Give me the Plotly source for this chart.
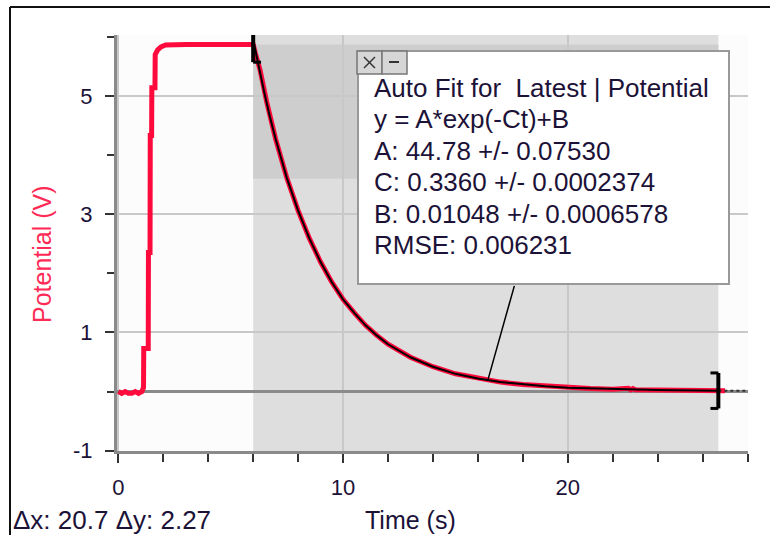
import plotly.graph_objects as go

# ---- data ----
time_s = [0, 0.15, 0.3, 0.45, 0.6, 0.75, 0.9, 1.05, 1.12, 1.13, 1.33, 1.34, 1.41, 1.42,
          1.48, 1.49, 1.63, 1.64, 1.75, 1.9, 2.1, 2.4, 3, 4, 5, 6.0, 6.1, 6.3, 6.6, 7,
          7.5, 8, 8.5, 9, 9.5, 10, 10.5, 11, 11.5, 12, 13, 14, 15, 16, 17, 18, 19, 20,
          21, 22, 22.6, 22.7, 22.8, 22.9, 23, 24, 25, 26, 27]
potential = [0.0, -0.03, 0.0, -0.03, -0.03, 0.0, -0.03, 0.0, 0.07, 0.73, 0.73, 2.35, 2.35, 4.33,
             4.33, 5.14, 5.14, 5.70, 5.78, 5.83, 5.86, 5.87, 5.87, 5.87, 5.87, 5.87, 5.72, 5.45, 4.90, 4.27,
             3.61, 3.06, 2.59, 2.19, 1.85, 1.56, 1.33, 1.12, 0.95, 0.80, 0.58, 0.42, 0.30, 0.22, 0.16, 0.12, 0.09, 0.065,
             0.05, 0.04, 0.04, 0.055, 0.03, 0.05, 0.03, 0.025, 0.02, 0.015, 0.015]

fit_t = [6, 6.25, 6.5, 6.75, 7, 7.5, 8, 8.5, 9, 9.5, 10, 10.5, 11, 11.5, 12, 13, 14, 15, 16,
         17, 18, 19, 20, 22, 24, 26.7]
fit_v = [5.95, 5.48, 5.05, 4.64, 4.27, 3.61, 3.06, 2.59, 2.19, 1.85, 1.56, 1.33, 1.12, 0.95,
         0.80, 0.58, 0.42, 0.30, 0.22, 0.16, 0.12, 0.09, 0.065, 0.04, 0.025, 0.015]
ext_t = [26.7, 28]
ext_v = [0.015, 0.015]

fit_region = [6.0, 26.7]
sel_y = [3.60, 5.87]

x_major = [0, 10, 20]
y_major = [-1, 1, 3, 5]
y_major_text = ["-1", "1", "3", "5"]

fit_lines = ["Auto Fit for  Latest | Potential", "y = A*exp(-Ct)+B", "A: 44.78 +/- 0.07530",
             "C: 0.3360 +/- 0.0002374", "B: 0.01048 +/- 0.0006578", "RMSE: 0.006231"]
delta_text = "Δx: 20.7 Δy: 2.27"

# ---- layout geometry (pixels) ----
W, H = 770, 535
L, R, T, B = 117, 748, 35, 451


def px(X):
    return (X - L) / (R - L)


def py(Y):
    return (B - Y) / (B - T)


FONT = "Liberation Sans, Arial, sans-serif"
RED = "#ff0a3c"
TXT = "#1c1238"

fig = go.Figure()
fig.add_trace(go.Scatter(x=time_s, y=potential, mode="lines",
                         line=dict(color=RED, width=5), hoverinfo="skip"))
fig.add_trace(go.Scatter(x=fit_t, y=fit_v, mode="lines",
                         line=dict(color="black", width=2), hoverinfo="skip"))
fig.add_trace(go.Scatter(x=ext_t, y=ext_v, mode="lines",
                         line=dict(color="#333333", width=2, dash="dot"), hoverinfo="skip"))

shapes = []
# shaded fit region
shapes.append(dict(type="rect", xref="x", yref="paper", x0=fit_region[0], x1=fit_region[1],
                   y0=0, y1=1, fillcolor="#dedede", line=dict(width=0), layer="below"))
shapes.append(dict(type="rect", xref="x", yref="y", x0=fit_region[0], x1=fit_region[1],
                   y0=sel_y[0], y1=sel_y[1], fillcolor="#cecece", line=dict(width=0), layer="below"))

# brackets
lb_y = potential[time_s.index(6.0)]
h = 0.30
shapes += [
    dict(type="line", xref="x", yref="y", x0=6.0, x1=6.0, y0=lb_y - h, y1=lb_y + h,
         line=dict(color="black", width=4)),
    dict(type="line", xref="x", yref="y", x0=6.0, x1=6.35, y0=lb_y + h, y1=lb_y + h,
         line=dict(color="black", width=3)),
    dict(type="line", xref="x", yref="y", x0=6.0, x1=6.35, y0=lb_y - h, y1=lb_y - h,
         line=dict(color="black", width=3)),
]
rb_y = ext_v[0]
shapes += [
    dict(type="line", xref="x", yref="y", x0=26.7, x1=26.7, y0=rb_y - h, y1=rb_y + h,
         line=dict(color="black", width=4)),
    dict(type="line", xref="x", yref="y", x0=26.35, x1=26.7, y0=rb_y + h, y1=rb_y + h,
         line=dict(color="black", width=3)),
    dict(type="line", xref="x", yref="y", x0=26.35, x1=26.7, y0=rb_y - h, y1=rb_y - h,
         line=dict(color="black", width=3)),
]

# fit info box
shapes.append(dict(type="rect", xref="paper", yref="paper", x0=px(358), x1=px(729),
                   y0=py(284), y1=py(51), fillcolor="white",
                   line=dict(color="#999999", width=2), layer="above"))
# little buttons
for bx0, bx1 in [(357, 382), (382, 407)]:
    shapes.append(dict(type="rect", xref="paper", yref="paper", x0=px(bx0), x1=px(bx1),
                       y0=py(74), y1=py(51), fillcolor="#d6d6d6",
                       line=dict(color="#777777", width=1.5), layer="above"))
# button glyphs (close cross and minimise dash)
shapes += [
    dict(type="line", xref="paper", yref="paper", x0=px(364), x1=px(375), y0=py(57), y1=py(68),
         line=dict(color="#333333", width=1.5), layer="above"),
    dict(type="line", xref="paper", yref="paper", x0=px(364), x1=px(375), y0=py(68), y1=py(57),
         line=dict(color="#333333", width=1.5), layer="above"),
    dict(type="line", xref="paper", yref="paper", x0=px(389), x1=px(399), y0=py(62), y1=py(62),
         line=dict(color="#333333", width=2), layer="above"),
]

# outer frame
shapes += [
    dict(type="line", xref="paper", yref="paper", x0=px(10), x1=px(770), y0=py(7), y1=py(7),
         line=dict(color="#111111", width=2)),
    dict(type="line", xref="paper", yref="paper", x0=px(10), x1=px(10), y0=py(7), y1=py(535),
         line=dict(color="#111111", width=2)),
]

annotations = []
line_y = [88, 119, 151, 182, 214, 245]
for txt, yy in zip(fit_lines, line_y):
    annotations.append(dict(xref="paper", yref="paper", x=px(372), y=py(yy), text=txt,
                            showarrow=False, xanchor="left", yanchor="middle",
                            font=dict(family=FONT, size=26, color=TXT)))
# leader line
annotations.append(dict(x=16.44, y=0.19, xref="x", yref="y", text="", showarrow=True,
                        arrowhead=0, arrowwidth=1.5, arrowcolor="black", ax=27, ay=-96))
# axis titles and delta readout
annotations.append(dict(xref="paper", yref="paper", x=px(410), y=py(520), text="Time (s)",
                        showarrow=False, xanchor="center", yanchor="middle",
                        font=dict(family=FONT, size=25, color=TXT)))
annotations.append(dict(xref="paper", yref="paper", x=px(42), y=py(254), text="Potential (V)",
                        showarrow=False, textangle=-90, xanchor="center", yanchor="middle",
                        font=dict(family=FONT, size=25, color="#ff2a55")))
annotations.append(dict(xref="paper", yref="paper", x=px(11), y=py(520), text=delta_text,
                        showarrow=False, xanchor="left", yanchor="middle",
                        font=dict(family=FONT, size=26, color=TXT)))

fig.update_layout(
    width=W, height=H,
    margin=dict(l=L, r=W - R, t=T, b=H - B, pad=0),
    paper_bgcolor="white", plot_bgcolor="#fcfcfc",
    showlegend=False,
    shapes=shapes, annotations=annotations,
    xaxis=dict(range=[-0.06, 28.02], tickmode="array", tickvals=x_major,
               showgrid=True, gridcolor="#c8c8c8", gridwidth=2, zeroline=False,
               showline=True, linecolor="#8a8a8a", linewidth=3,
               ticks="outside", ticklen=9, tickwidth=2, tickcolor="#333333",
               ticklabelstandoff=6,
               tickfont=dict(family=FONT, size=22, color=TXT),
               minor=dict(dtick=2, tick0=0, ticks="outside", ticklen=8, tickwidth=2,
                          tickcolor="#333333", showgrid=False),
               fixedrange=True),
    yaxis=dict(range=[-1.005, 6.03], tickmode="array", tickvals=y_major, ticktext=y_major_text,
               showgrid=True, gridcolor="#c8c8c8", gridwidth=2,
               zeroline=True, zerolinecolor="#8a8a8a", zerolinewidth=3,
               showline=True, linecolor="#8a8a8a", linewidth=3,
               ticks="outside", ticklen=9, tickwidth=2, tickcolor="#333333",
               ticklabelstandoff=8,
               tickfont=dict(family=FONT, size=22, color=TXT),
               minor=dict(tickmode="array", tickvals=[0, 2, 4, 6], ticks="outside", ticklen=7,
                          tickwidth=2, tickcolor="#333333", showgrid=False),
               fixedrange=True),
)

fig.write_html("out.html")
